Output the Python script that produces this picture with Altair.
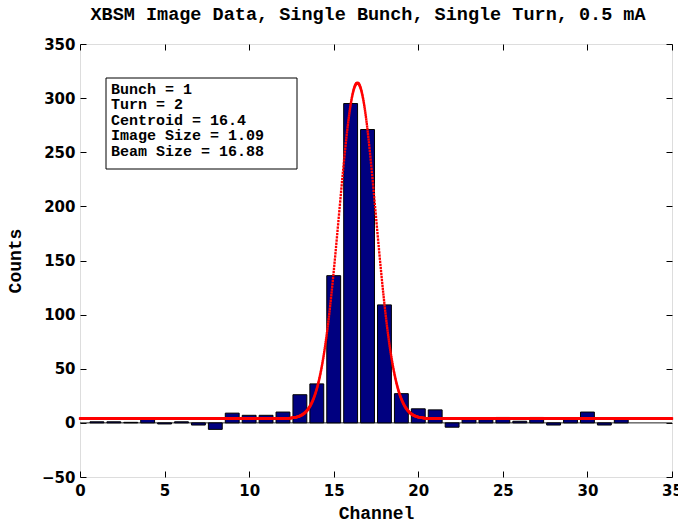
import altair as alt
import numpy as np
import pandas as pd

# Bar data (channel, counts)
channels = list(range(1, 33))
counts = [1, 1, 0.5, 4, -1, 1, -2, -6, 9, 7, 7, 10, 26, 36, 136, 295,
          271, 109, 27, 13, 12, -4, 3, 3, 5, 1.5, 5, -2, 3, 10, -2, 3]

# Gaussian fit parameters (from the annotation box and the drawn curve)
fit_centroid = 16.4
fit_sigma = 1.09
fit_amplitude = 310
fit_offset = 4

info_lines = ["Bunch = 1", "Turn = 2", "Centroid = 16.4",
              "Image Size = 1.09", "Beam Size = 16.88"]

x_ticks = [0, 5, 10, 15, 20, 25, 30, 35]
y_ticks = [-50, 0, 50, 100, 150, 200, 250, 300, 350]

bars_df = pd.DataFrame({"channel": channels, "counts": counts})
fx = np.linspace(0, 35, 2001)
fit_df = pd.DataFrame({
    "channel": fx,
    "counts": fit_offset + fit_amplitude * np.exp(-(fx - fit_centroid) ** 2 / (2 * fit_sigma ** 2)),
})
one_row = pd.DataFrame({"k": [0]})

W, H = 592, 433
xs = alt.Scale(domain=[0, 35], nice=False, zero=False)
ys = alt.Scale(domain=[-50, 350], nice=False, zero=False)

lab_font = "DejaVu Sans"
mono = "Liberation Mono"

def tick_axis(orient, offset, values):
    return alt.Axis(orient=orient, offset=offset, values=values, labels=False,
                    domain=False, grid=False, ticks=True, tickSize=6,
                    tickColor="black", tickWidth=1, title=None)

zero_line = alt.Chart(one_row).mark_rule(color="#222222", strokeWidth=1).encode(
    y=alt.Y(datum=0, scale=ys, axis=None)
)

bars = alt.Chart(bars_df).transform_calculate(
    x0="datum.channel - 0.41", x1="datum.channel + 0.41"
).mark_bar(color="#000080", stroke="black", strokeWidth=1).encode(
    x=alt.X("x0:Q", scale=xs, axis=alt.Axis(
        orient="bottom", values=x_ticks, ticks=False, domain=False, grid=False,
        labelFlush=False,
        labelFont=lab_font, labelFontSize=15, labelFontWeight="bold", labelColor="black",
        labelPadding=6, title="Channel", titleFont=mono, titleFontSize=18,
        titleFontWeight="bold", titleColor="black", titlePadding=6)),
    x2="x1:Q",
    y=alt.Y("counts:Q", scale=ys, axis=alt.Axis(
        orient="left", values=y_ticks, ticks=False, domain=False, grid=False,
        labelFlush=False,
        labelFont=lab_font, labelFontSize=15, labelFontWeight="bold", labelColor="black",
        labelPadding=5, title="Counts", titleFont=mono, titleFontSize=18,
        titleFontWeight="bold", titleColor="black", titlePadding=17)),
    y2=alt.Y2(datum=0),
)

ticks_a = alt.Chart(bars_df).mark_point(opacity=0).encode(
    x=alt.X("channel:Q", scale=xs, axis=tick_axis("top", -H, x_ticks)),
    y=alt.Y("counts:Q", scale=ys, axis=tick_axis("right", -W, y_ticks)),
)

fit = alt.Chart(fit_df).mark_square(color="red", size=5.5, opacity=1).encode(
    x=alt.X("channel:Q", scale=xs, axis=tick_axis("bottom", -H, x_ticks)),
    y=alt.Y("counts:Q", scale=ys, axis=tick_axis("left", -W, y_ticks)),
)

box = alt.Chart(one_row).mark_rect(fill="white", stroke="black", strokeWidth=1).encode(
    x=alt.value(26), x2=alt.value(217), y=alt.value(34), y2=alt.value(125)
)
text = alt.Chart(one_row).mark_text(
    align="left", baseline="alphabetic", font=mono, fontSize=15, fontWeight="bold",
    color="black", lineHeight=15.5
).encode(x=alt.value(31), y=alt.value(49.5), text=alt.value(info_lines))

chart = alt.layer(zero_line, bars, ticks_a, fit, box, text).resolve_axis(
    x="independent", y="independent"
).properties(
    width=W, height=H,
    title=alt.TitleParams("XBSM Image Data, Single Bunch, Single Turn, 0.5 mA",
                          font=mono, fontSize=18.5, fontWeight="bold", color="black",
                          anchor="middle", dx=-8, offset=14),
    autosize=alt.AutoSizeParams(type="none"),
    padding={"left": 80, "top": 44, "right": 6, "bottom": 47},
).configure_view(stroke="black", strokeWidth=1.5).configure(background="white")

chart.save("out.html", embed_options={"renderer": "svg", "actions": False})
